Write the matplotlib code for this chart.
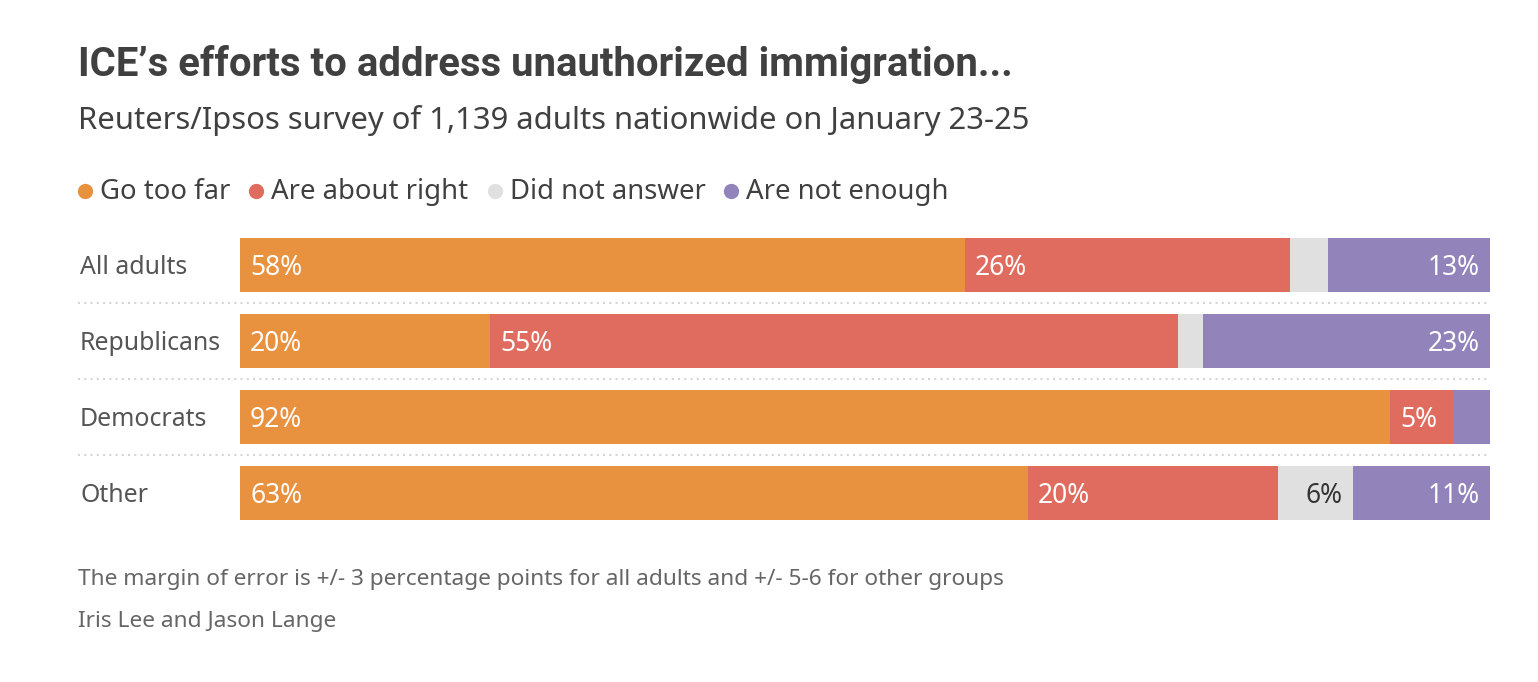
import numpy as np
import matplotlib
matplotlib.use("Agg")
import matplotlib.pyplot as plt
from matplotlib.lines import Line2D

plt.rcParams['font.family'] = ['Noto Sans', 'DejaVu Sans']

categories = ["All adults", "Republicans", "Democrats", "Other"]
series_names = ["Go too far", "Are about right", "Did not answer", "Are not enough"]
go_too_far = [58, 20, 92, 63]
about_right = [26, 55, 5, 20]
no_answer = [3, 2, 0, 6]
not_enough = [13, 23, 3, 11]

colors = ['#E8913F', '#E06C5F', '#E0E0E0', '#9283BB']
label_colors = ['white', 'white', '#333333', 'white']

title = "ICE\u2019s efforts to address unauthorized immigration..."
subtitle = "Reuters/Ipsos survey of 1,139 adults nationwide on January 23-25"
note = "The margin of error is +/- 3 percentage points for all adults and +/- 5-6 for other groups"
credit = "Iris Lee and Jason Lange"

W, H = 1538, 682
fig = plt.figure(figsize=(W / 100, H / 100), dpi=100)
fig.patch.set_facecolor('white')

# axes placed in pixel space: x 240..1490, y 227..531
ax = fig.add_axes([240 / W, 1 - 531 / H, 1250 / W, 304 / H])
ax.set_xlim(0, 100)
ax.set_ylim(3.5, -0.5)
ax.axis('off')

series = [go_too_far, about_right, no_answer, not_enough]
y = np.arange(len(categories))
left = np.zeros(len(categories))
for k, vals in enumerate(series):
    vals = np.array(vals, dtype=float)
    ax.barh(y, vals, left=left, height=54 / 76, color=colors[k], linewidth=0)
    for i, v in enumerate(vals):
        if v < 5:
            continue
        if k >= 2:
            ax.text(left[i] + v - 0.8, y[i] + 0.035, f"{int(v)}%", ha='right', va='center',
                    color=label_colors[k], fontsize=19)
        else:
            ax.text(left[i] + 0.8, y[i] + 0.035, f"{int(v)}%", ha='left', va='center',
                    color=label_colors[k], fontsize=19)
    left += vals

# category labels and dotted separators
for i, cat in enumerate(categories):
    fig.text(80 / W, 1 - (267 + 76 * i) / H, cat, ha='left', va='center',
             fontsize=17.9, color='#555555')
for i in range(len(categories) - 1):
    ax.axhline(i + 0.5, xmin=-162 / 1250, xmax=1, color='#D5D5D5', lw=1.5,
               ls=(0, (1, 2)), clip_on=False)

fig.text(78 / W, 1 - 64 / H, title, ha='left', va='center', fontsize=28.9,
         fontweight='bold', color='#404040', family=['Roboto', 'DejaVu Sans'])
fig.text(78 / W, 1 - 120 / H, subtitle, ha='left', va='center', fontsize=22.3,
         color='#404040')

# legend row
x = 85
renderer = fig.canvas.get_renderer()
for name, c in zip(series_names, colors):
    fig.add_artist(Line2D([x / W], [1 - 191 / H], marker='o', markersize=11,
                          color=c, markeredgewidth=0, transform=fig.transFigure))
    t = fig.text((x + 15) / W, 1 - 192 / H, name, ha='left', va='center',
                 fontsize=19.8, color='#404040')
    bb = t.get_window_extent(renderer)
    x = bb.x1 + 26

fig.text(78 / W, 1 - 580 / H, note, ha='left', va='center', fontsize=16.3, color='#666666')
fig.text(78 / W, 1 - 621 / H, credit, ha='left', va='center', fontsize=16.3, color='#666666')

fig.savefig("out.png", dpi=100, facecolor='white')
